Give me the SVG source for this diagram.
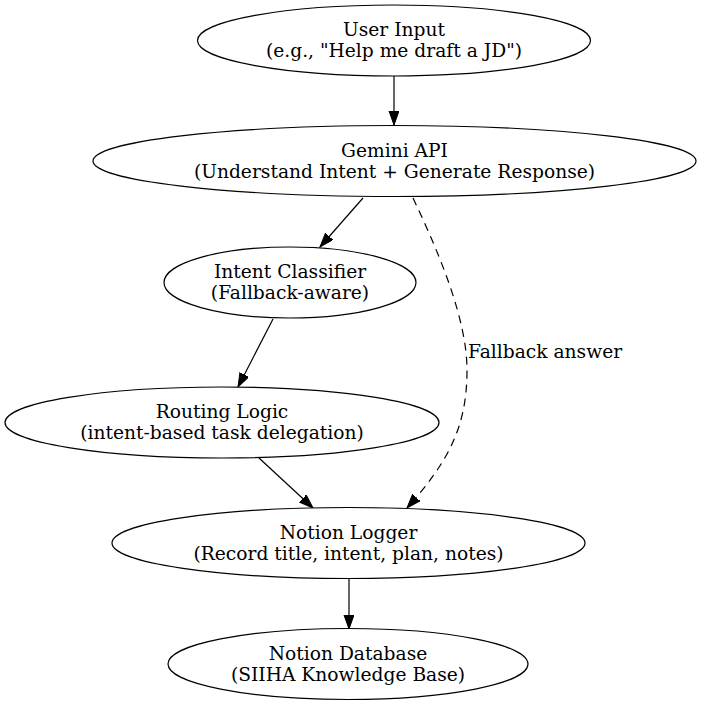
<svg xmlns="http://www.w3.org/2000/svg" width="701" height="706" viewBox="0 0 701 706">
<style>
  .node ellipse { fill: #ffffff; stroke: #000000; stroke-width: 1.2; }
  .node text, .elabel { font-family: "DejaVu Serif", serif; font-size: 18.67px; fill: #000000; text-anchor: middle; }
  .elabel { text-anchor: start; }
  .edge { fill: none; stroke: #000000; stroke-width: 1.2; }
  .dashed { stroke-dasharray: 8,6; }
</style>
<defs>
  <marker id="arrow" markerUnits="userSpaceOnUse" markerWidth="15" markerHeight="11" refX="14" refY="5" orient="auto">
    <path d="M0,0 L14,5 L0,10 Z" fill="#000000" stroke="#000000" stroke-width="1"/>
  </marker>
</defs>
<rect width="701" height="706" fill="#ffffff"/>
<g id="connectors">
  <path class="edge" d="M394,76 L394,125" marker-end="url(#arrow)"/>
  <path class="edge" d="M363,198 L320,247" marker-end="url(#arrow)"/>
  <path class="edge" d="M273,319 L238,387" marker-end="url(#arrow)"/>
  <path class="edge" d="M259,458 L313,508" marker-end="url(#arrow)"/>
  <path class="edge" d="M349,579 L349,629" marker-end="url(#arrow)"/>
  <path class="edge dashed" d="M413,198 C440,255 467,320 467,370 C467,425 450,460 407,508" marker-end="url(#arrow)"/>
  <text class="elabel" x="468" y="358">Fallback answer</text>
</g>
<g id="user-input" class="node">
  <ellipse cx="394" cy="40.5" rx="196.5" ry="35.5"/>
  <text x="394" y="36">User Input</text>
  <text x="394" y="57">(e.g., "Help me draft a JD")</text>
</g>
<g id="gemini-api" class="node">
  <ellipse cx="394.5" cy="161" rx="301.5" ry="35.5"/>
  <text x="394.5" y="156.5">Gemini API</text>
  <text x="394.5" y="177.5">(Understand Intent + Generate Response)</text>
</g>
<g id="intent-classifier" class="node">
  <ellipse cx="290" cy="282.5" rx="126" ry="35.5"/>
  <text x="290" y="278">Intent Classifier</text>
  <text x="290" y="299">(Fallback-aware)</text>
</g>
<g id="routing-logic" class="node">
  <ellipse cx="222" cy="422.5" rx="217" ry="35.5"/>
  <text x="222" y="418">Routing Logic</text>
  <text x="222" y="439">(intent-based task delegation)</text>
</g>
<g id="notion-logger" class="node">
  <ellipse cx="348.5" cy="543" rx="236.5" ry="35.5"/>
  <text x="348.5" y="538.5">Notion Logger</text>
  <text x="348.5" y="559.5">(Record title, intent, plan, notes)</text>
</g>
<g id="notion-database" class="node">
  <ellipse cx="348" cy="664" rx="180" ry="35.5"/>
  <text x="348" y="659.5">Notion Database</text>
  <text x="348" y="680.5">(SIIHA Knowledge Base)</text>
</g>
</svg>
